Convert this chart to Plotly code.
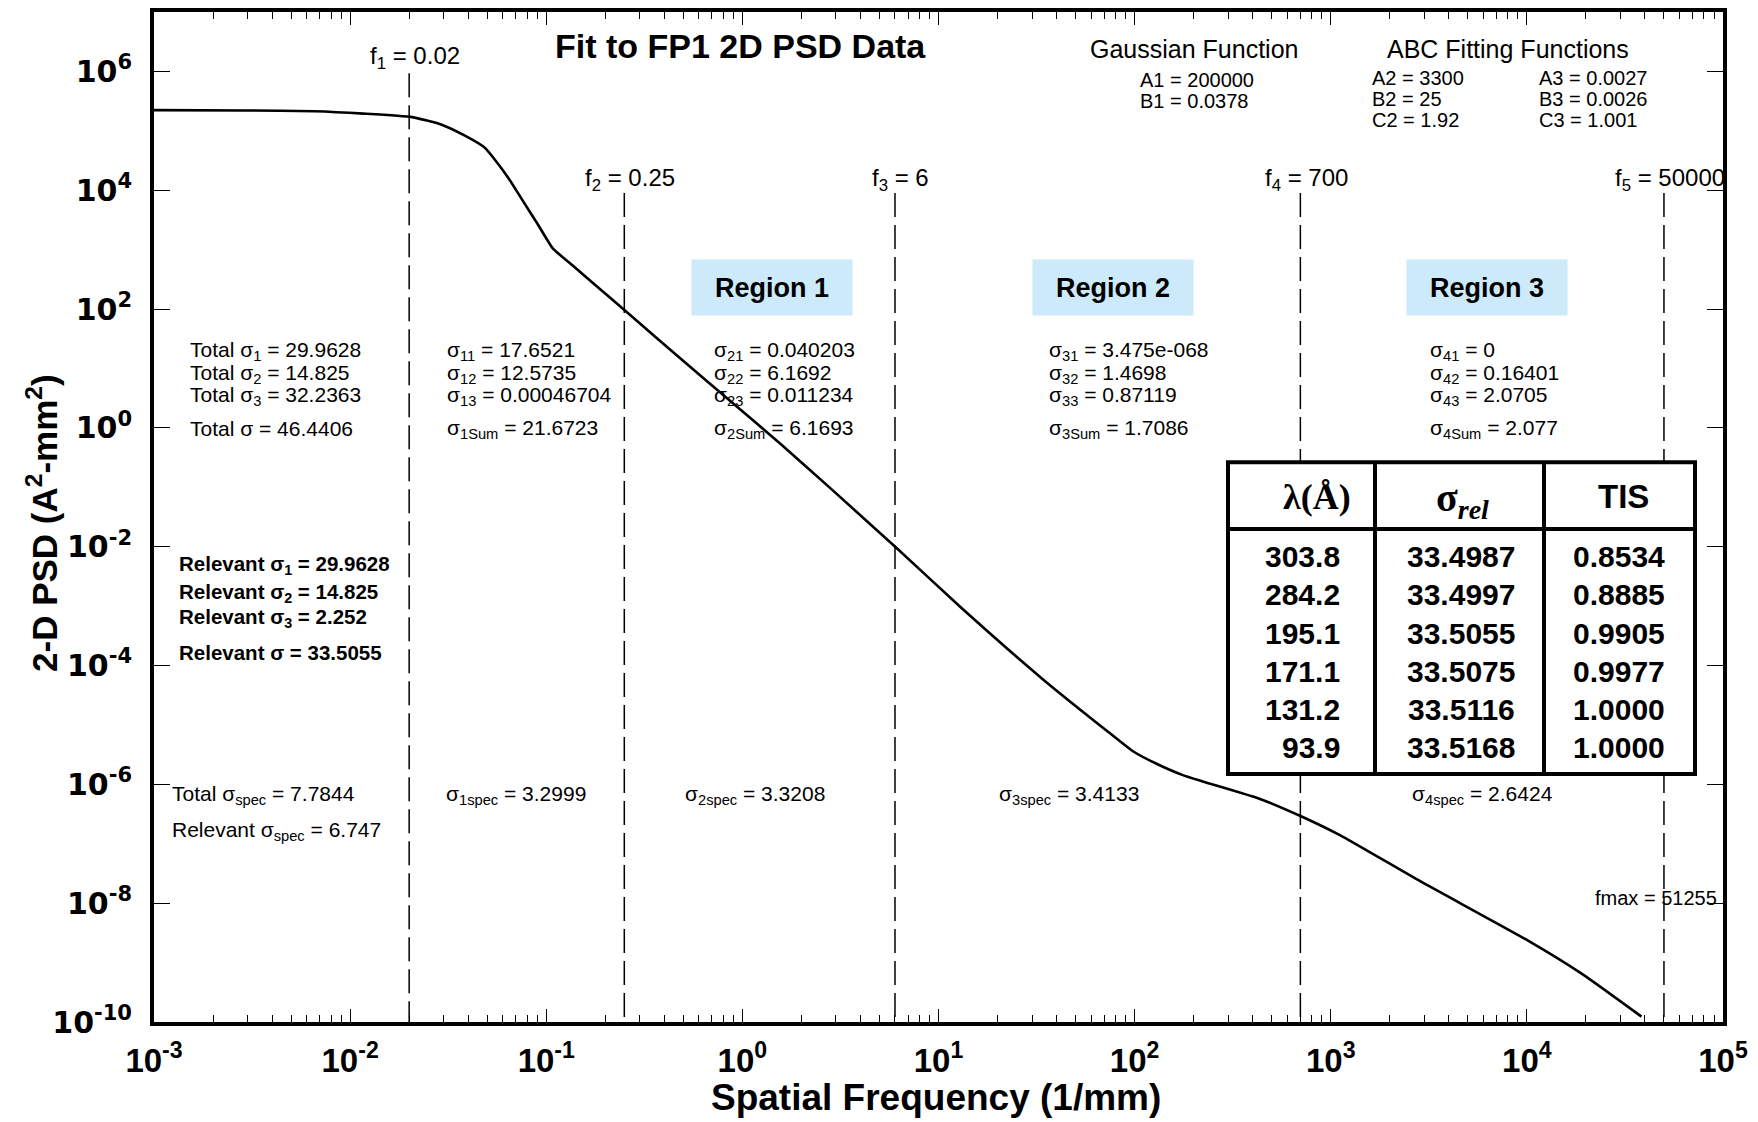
import math
import plotly.graph_objects as go

# ---------------- data ----------------
freq = [0.001, 0.003, 0.0066, 0.0117, 0.0207, 0.0291, 0.0387, 0.0486, 0.0546,
        0.0646, 0.0767, 0.0912, 0.108, 0.1355, 0.170, 0.258, 0.502, 0.889,
        1.567, 2.77, 6.15, 13.1, 34.0, 77.4, 99.5, 128.5, 176, 227, 429, 710,
        1107, 2858, 10140, 19100, 38400]
psd = [2.23e5, 2.2e5, 2.14e5, 1.95e5, 1.70e5, 1.28e5, 8.2e4, 5.2e4, 3.3e4,
       1.55e4, 6.3e3, 2.57e3, 1.05e3, 550, 288, 88.5, 13.2, 2.66,
       0.537, 0.1007, 0.00933, 9.3e-4, 5.9e-5, 6.65e-6, 3.5e-6, 2.24e-6, 1.43e-6,
       1.10e-6, 5.8e-7, 2.88e-7, 1.41e-7, 2.34e-8, 2.34e-9, 6.45e-10, 1.23e-10]

cut_freqs = [0.02, 0.25, 6, 700, 50000]
cut_names = ["f<sub>1</sub>", "f<sub>2</sub>", "f<sub>3</sub>", "f<sub>4</sub>", "f<sub>5</sub>"]
cut_texts = ["0.02", "0.25", "6", "700", "50000"]
cut_tops = [9.3e5, 9.0e3, 9.0e3, 9.0e3, 9.0e3]

x_tick_vals = [1e-3, 1e-2, 1e-1, 1e0, 1e1, 1e2, 1e3, 1e4, 1e5]
x_tick_text = ["10<sup>-3</sup>", "10<sup>-2</sup>", "10<sup>-1</sup>", "10<sup>0</sup>",
               "10<sup>1</sup>", "10<sup>2</sup>", "10<sup>3</sup>", "10<sup>4</sup>", "10<sup>5</sup>"]
y_tick_vals = [1e-10, 1e-8, 1e-6, 1e-4, 1e-2, 1e0, 1e2, 1e4, 1e6]
y_tick_text = ["10<sup>-10</sup>", "10<sup>-8</sup>", "10<sup>-6</sup>", "10<sup>-4</sup>",
               "10<sup>-2</sup>", "10<sup>0</sup>", "10<sup>2</sup>", "10<sup>4</sup>", "10<sup>6</sup>"]

total_lines = ["Total σ<sub>1</sub> = 29.9628", "Total σ<sub>2</sub> = 14.825",
               "Total σ<sub>3</sub> = 32.2363", "Total σ = 46.4406"]
relevant_lines = ["Relevant σ<sub>1</sub> = 29.9628", "Relevant σ<sub>2</sub> = 14.825",
                  "Relevant σ<sub>3</sub> = 2.252", "Relevant σ = 33.5055"]
spec_lines = ["Total σ<sub>spec</sub> = 7.7844", "Relevant σ<sub>spec</sub> = 6.747"]
band1 = ["σ<sub>11</sub> = 17.6521", "σ<sub>12</sub> = 12.5735",
         "σ<sub>13</sub> = 0.00046704", "σ<sub>1Sum</sub> = 21.6723"]
band2 = ["σ<sub>21</sub> = 0.040203", "σ<sub>22</sub> = 6.1692",
         "σ<sub>23</sub> = 0.011234", "σ<sub>2Sum</sub> = 6.1693"]
band3 = ["σ<sub>31</sub> = 3.475e-068", "σ<sub>32</sub> = 1.4698",
         "σ<sub>33</sub> = 0.87119", "σ<sub>3Sum</sub> = 1.7086"]
band4 = ["σ<sub>41</sub> = 0", "σ<sub>42</sub> = 0.16401",
         "σ<sub>43</sub> = 2.0705", "σ<sub>4Sum</sub> = 2.077"]
spec_bands = ["σ<sub>1spec</sub> = 3.2999", "σ<sub>2spec</sub> = 3.3208",
              "σ<sub>3spec</sub> = 3.4133", "σ<sub>4spec</sub> = 2.6424"]
fmax_text = "fmax = 51255"

gauss_params = ["A1 = 200000", "B1 = 0.0378"]
abc2_params = ["A2 = 3300", "B2 = 25", "C2 = 1.92"]
abc3_params = ["A3 = 0.0027", "B3 = 0.0026", "C3 = 1.001"]
region_names = ["Region 1", "Region 2", "Region 3"]

tbl_lambda = ["303.8", "284.2", "195.1", "171.1", "131.2", "93.9"]
tbl_sigma = ["33.4987", "33.4997", "33.5055", "33.5075", "33.5116", "33.5168"]
tbl_tis = ["0.8534", "0.8885", "0.9905", "0.9977", "1.0000", "1.0000"]

# ---------------- layout helpers ----------------
W, H = 1758, 1122
L, R, T, B = 154, 1723, 8, 1022
NARROW = "Liberation Sans Narrow, Arial Narrow, Liberation Sans, Arial, sans-serif"
ARIAL = "Liberation Sans, Arial, sans-serif"
SERIF = "Liberation Serif, Times New Roman, serif"


def px(X, Y):
    return (X - L) / (R - L), (B - Y) / (B - T)


annotations = []
shapes = []


def txt(X, Y, text, size=20, family=NARROW, anchor="left", color="black", weight="normal"):
    xp, yp = px(X, Y)
    annotations.append(dict(x=xp, y=yp, xref="paper", yref="paper", text=text,
                            showarrow=False, xanchor=anchor, yanchor="middle",
                            font=dict(size=size, family=family, color=color, weight=weight)))


fig = go.Figure()

# dashed cut-off lines
for f, top in zip(cut_freqs, cut_tops):
    fig.add_trace(go.Scatter(x=[f, f], y=[top, 1e-10], mode="lines",
                             line=dict(color="black", width=1.5, dash="24px,8px"),
                             hoverinfo="skip", showlegend=False))

# PSD curve
fig.add_trace(go.Scatter(x=freq, y=psd, mode="lines",
                         line=dict(color="black", width=2.6, shape="spline", smoothing=0.5),
                         showlegend=False))

# cut-off labels
for i, (f, nm, tv) in enumerate(zip(cut_freqs, cut_names, cut_texts)):
    yp = px(0, 54 if i == 0 else 176)[1]
    annotations.append(dict(x=math.log10(f), y=yp, xref="x", yref="paper",
                            text=f"{nm} = {tv}", showarrow=False, xanchor="center",
                            yanchor="middle", xshift=6,
                            font=dict(size=24, family=NARROW, color="black")))

# title & parameter blocks
txt(740, 42, "Fit to FP1 2D PSD Data", size=34, anchor="center", weight="bold")
txt(1194, 45, "Gaussian Function", size=25, anchor="center")
txt(1508, 45, "ABC Fitting Functions", size=25, anchor="center")
for k, s in enumerate(gauss_params):
    txt(1138, 76 + 21.5 * k, s, size=20)
for k, s in enumerate(abc2_params):
    txt(1370, 74 + 21 * k, s, size=20)
for k, s in enumerate(abc3_params):
    txt(1537, 74 + 21 * k, s, size=20)

# region boxes
for nm, X0 in zip(region_names, [692, 1033, 1407]):
    xp, yp = px(X0 + 80, 285)
    annotations.append(dict(x=xp, y=yp, xref="paper", yref="paper", text=nm,
                            showarrow=False, xanchor="center", yanchor="middle",
                            width=160, height=55, bgcolor="#CCEAF9", borderpad=0,
                            font=dict(size=27, family=ARIAL, color="black", weight="bold")))

# sigma text columns
rows_y = [348.7, 371.1, 393.5, 426.5]
for k, s in enumerate(total_lines):
    txt(188, rows_y[k], s, size=21)
for k, s in enumerate(relevant_lines):
    txt(177, [562.8, 590.9, 616.7, 651.4][k], s, size=20.5, family=ARIAL, weight="bold")
txt(170, 794, spec_lines[0], size=21)
txt(170, 830, spec_lines[1], size=21)
for X0, band in zip([445, 712, 1047, 1428], [band1, band2, band3, band4]):
    for k, s in enumerate(band):
        txt(X0, rows_y[k], s, size=21)
for X0, s in zip([444, 683, 997, 1410], spec_bands):
    txt(X0, 794, s, size=21)
txt(1719, 898, fmax_text, size=20, anchor="right")

# table
TX0, TX1, TY0, TY1 = 1228, 1695, 460, 773
col_div = [1375, 1544]
head_sep = 527
lw = 4


def box_line(x0, y0, x1, y1):
    a0, b0 = px(x0, y0)
    a1, b1 = px(x1, y1)
    shapes.append(dict(type="line", xref="paper", yref="paper", x0=a0, y0=b0, x1=a1, y1=b1,
                       line=dict(color="black", width=lw)))


a0, b0 = px(TX0, TY0)
a1, b1 = px(TX1, TY1)
shapes.append(dict(type="rect", xref="paper", yref="paper", x0=a0, y0=b0, x1=a1, y1=b1,
                   fillcolor="white", line=dict(color="black", width=lw), layer="above"))
for cx in col_div:
    box_line(cx, TY0, cx, TY1)
box_line(TX0, head_sep, TX1, head_sep)

txt(1317, 495, "λ(Å)", size=36, family=SERIF, anchor="center", weight="bold")
txt(1462, 498, "σ<sub><i>rel</i></sub>", size=40, family=SERIF, anchor="center", weight="bold")
txt(1623, 494, "TIS", size=33, family=ARIAL, anchor="center", weight="bold")
for k in range(len(tbl_lambda)):
    yy = 555 + 38.3 * k
    txt(1342, yy, tbl_lambda[k], size=30, family=ARIAL, anchor="right", weight="bold")
    txt(1461, yy, tbl_sigma[k], size=30, family=ARIAL, anchor="center", weight="bold")
    txt(1619, yy, tbl_tis[k], size=30, family=ARIAL, anchor="center", weight="bold")

# axis titles
xa, ya = px(42, 521)
annotations.append(dict(x=xa, y=ya, xref="paper", yref="paper",
                        text="2-D PSD (A<sup>2</sup>-mm<sup>2</sup>)", textangle=-90,
                        showarrow=False, xanchor="center", yanchor="middle",
                        font=dict(size=35, family=NARROW, color="black", weight="bold")))
xa, ya = px(936, 1098)
annotations.append(dict(x=xa, y=ya, xref="paper", yref="paper",
                        text="Spatial Frequency (1/mm)", showarrow=False,
                        xanchor="center", yanchor="middle",
                        font=dict(size=37, family=NARROW, color="black", weight="bold")))

fig.update_layout(
    width=W, height=H,
    margin=dict(l=L, r=W - R, t=T, b=H - B),
    paper_bgcolor="white", plot_bgcolor="white",
    showlegend=False,
    annotations=annotations, shapes=shapes,
    xaxis=dict(type="log", range=[-3, 5], showgrid=False, zeroline=False,
               showline=True, linecolor="black", linewidth=4, mirror="allticks",
               ticks="inside", ticklen=13, tickwidth=1.3, tickcolor="black",
               tickmode="array", tickvals=x_tick_vals, ticktext=x_tick_text,
               tickfont=dict(size=33, family=NARROW, color="black", weight="bold"),
               ticklabelstandoff=6,
               minor=dict(ticks="inside", ticklen=7, tickwidth=1.1, tickcolor="black",
                          dtick="D1", showgrid=False)),
    yaxis=dict(type="log", range=[-10, 7], showgrid=False, zeroline=False,
               showline=True, linecolor="black", linewidth=4, mirror="allticks",
               ticks="inside", ticklen=16, tickwidth=1.3, tickcolor="black",
               tickmode="array", tickvals=y_tick_vals, ticktext=y_tick_text,
               tickfont=dict(size=30, family="DejaVu Sans, Verdana, sans-serif",
                             color="black", weight="bold"),
               ticklabelstandoff=12),
)

fig.write_html("out.html")
